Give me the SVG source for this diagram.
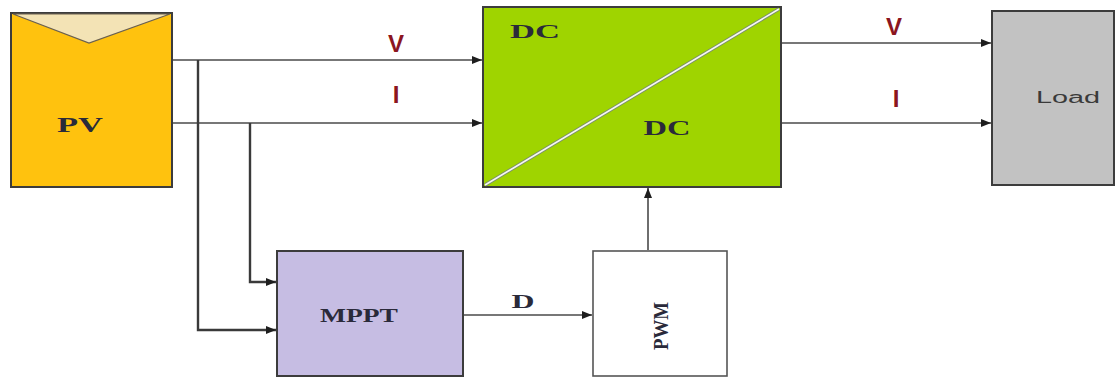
<svg xmlns="http://www.w3.org/2000/svg" width="1118" height="378" viewBox="0 0 1118 378">
<style>
.box{stroke:#3c3c3c;stroke-width:2}
.conn{fill:none;stroke:#4a4a4a;stroke-width:1.6}
.thick{fill:none;stroke:#3a3a3a;stroke-width:2.4}
.serif{font-family:"Liberation Serif","Times New Roman",serif;font-weight:bold;fill:#2a2a3a}
.sig{font-family:"Liberation Sans",Arial,sans-serif;font-weight:bold;font-size:24px;fill:#8b1520;text-anchor:middle}
</style>
<defs>
<marker id="arr" viewBox="0 0 10 8" refX="10" refY="4" markerWidth="10" markerHeight="8" markerUnits="userSpaceOnUse" orient="auto">
<path d="M0,0 L10,4 L0,8 Z" fill="#1e1e1e"/>
</marker>
</defs>
<rect width="1118" height="378" fill="#ffffff"/>
<g id="connectors">
<line class="conn" x1="172" y1="60" x2="482" y2="60" marker-end="url(#arr)"/>
<line class="conn" x1="172" y1="123" x2="482" y2="123" marker-end="url(#arr)"/>
<polyline class="thick" points="198,60 198,330 276,330" marker-end="url(#arr)"/>
<polyline class="thick" points="250,123 250,282 276,282" marker-end="url(#arr)"/>
<line class="conn" x1="782" y1="43" x2="991" y2="43" marker-end="url(#arr)"/>
<line class="conn" x1="782" y1="123" x2="991" y2="123" marker-end="url(#arr)"/>
<line class="conn" x1="464" y1="315" x2="592" y2="315" marker-end="url(#arr)"/>
<line class="conn" x1="648" y1="250" x2="648" y2="188" marker-end="url(#arr)"/>
<text class="sig" x="396" y="52">V</text>
<text class="sig" x="396" y="103">I</text>
<text class="sig" x="894" y="35">V</text>
<text class="sig" x="896" y="107">I</text>
<text class="serif" x="523" y="308" font-size="19" text-anchor="middle" textLength="23" lengthAdjust="spacingAndGlyphs">D</text>
</g>
<g id="pv">
<rect class="box" x="11" y="13" width="161" height="174" fill="#ffc20e"/>
<polygon points="13,14 89,43 170,14" fill="#f3e3b5" stroke="#6a6050" stroke-width="1.2"/>
<text class="serif" x="80" y="132" font-size="21" text-anchor="middle" textLength="46" lengthAdjust="spacingAndGlyphs">PV</text>
</g>
<g id="dcdc">
<rect class="box" x="483" y="7" width="298" height="180" fill="#9fd400"/>
<line x1="485" y1="185" x2="779" y2="9" stroke="#7a8a70" stroke-width="3.4"/>
<line x1="485" y1="185" x2="779" y2="9" stroke="#f6f9f0" stroke-width="1.6"/>
<text class="serif" x="535" y="38" font-size="19" text-anchor="middle" textLength="50" lengthAdjust="spacingAndGlyphs">DC</text>
<text class="serif" x="667" y="135" font-size="20" text-anchor="middle" textLength="47" lengthAdjust="spacingAndGlyphs">DC</text>
</g>
<g id="load">
<rect class="box" x="992" y="11" width="122" height="174" fill="#c2c2c2"/>
<text x="1068" y="103" font-family="'Liberation Sans',Arial,sans-serif" font-size="16" fill="#3a3a3a" text-anchor="middle" textLength="64" lengthAdjust="spacingAndGlyphs">Load</text>
</g>
<g id="mppt">
<rect class="box" x="277" y="251" width="186" height="125" fill="#c6bde3"/>
<text class="serif" x="359" y="322" font-size="19" text-anchor="middle" textLength="78" lengthAdjust="spacingAndGlyphs">MPPT</text>
</g>
<g id="pwm">
<rect x="593" y="251" width="134" height="125" fill="#ffffff" stroke="#555" stroke-width="1.6"/>
<text class="serif" transform="translate(668,326) rotate(-90)" x="0" y="0" font-size="20" text-anchor="middle" textLength="48" lengthAdjust="spacingAndGlyphs">PWM</text>
</g>
</svg>
